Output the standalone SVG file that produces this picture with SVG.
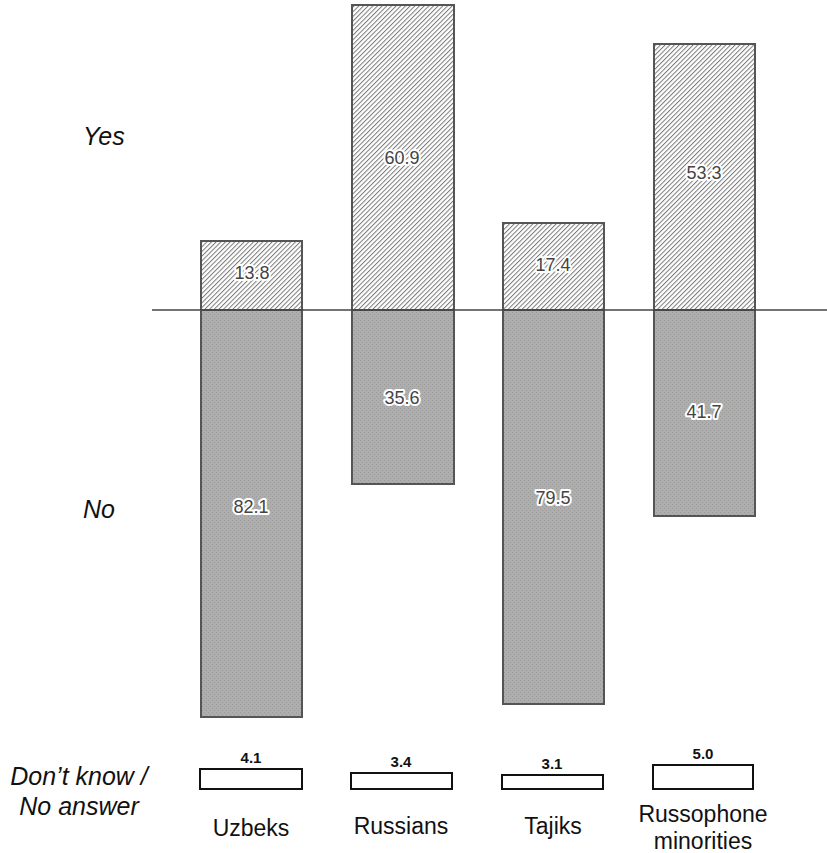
<svg xmlns="http://www.w3.org/2000/svg" width="827" height="853" viewBox="0 0 827 853">
<style>
.yes{fill:url(#hatch);stroke:#555;stroke-width:2}
.no{fill:url(#dots);stroke:#555;stroke-width:2}
.dk{fill:#fff;stroke:#111;stroke-width:2}
.val{font-family:"Liberation Sans",Arial,sans-serif;font-size:18px;fill:#444;text-anchor:middle;stroke:#fff;stroke-width:4;stroke-linejoin:round;paint-order:stroke}
.dkv{font-family:"Liberation Sans",Arial,sans-serif;font-size:15px;font-weight:bold;fill:#111;text-anchor:middle}
.cat{font-family:"Liberation Sans",Arial,sans-serif;font-size:23px;fill:#111;text-anchor:middle}
.side{font-family:"Liberation Sans",Arial,sans-serif;font-size:25px;font-style:italic;fill:#111}
</style>
<defs>
<pattern id="hatch" patternUnits="userSpaceOnUse" width="3.3" height="10" patternTransform="rotate(45)">
<rect width="3.3" height="10" fill="#fff"/>
<line x1="0.5" y1="0" x2="0.5" y2="10" stroke="#7a7a7a" stroke-width="1"/>
</pattern>
<pattern id="dots" patternUnits="userSpaceOnUse" width="4" height="4">
<rect width="4" height="4" fill="#aeaeae"/>
<rect x="0" y="0" width="1" height="1" fill="#999"/>
<rect x="2" y="2" width="1" height="1" fill="#999"/>
</pattern>
</defs>
<rect width="827" height="853" fill="#fff"/>
<g id="labels-side">
<text class="side" x="83" y="145">Yes</text>
<text class="side" x="83" y="518">No</text>
<text class="side" x="79" y="785" text-anchor="middle">Don’t know /</text>
<text class="side" x="79" y="815" text-anchor="middle">No answer</text>
</g>
<g id="uzbeks">
<rect class="yes" x="201" y="241" width="101" height="69"/>
<rect class="no" x="201" y="310" width="101" height="407"/>
<text class="val" x="252" y="279">13.8</text>
<text class="val" x="251" y="513">82.1</text>
<rect class="dk" x="200" y="769" width="102" height="20"/>
<text class="dkv" x="251" y="763">4.1</text>
<text class="cat" x="251" y="836">Uzbeks</text>
</g>
<g id="russians">
<rect class="yes" x="352" y="5" width="102" height="305"/>
<rect class="no" x="352" y="310" width="102" height="174"/>
<text class="val" x="402" y="164">60.9</text>
<text class="val" x="402" y="404">35.6</text>
<rect class="dk" x="351" y="773" width="101" height="16"/>
<text class="dkv" x="401" y="767">3.4</text>
<text class="cat" x="401" y="834">Russians</text>
</g>
<g id="tajiks">
<rect class="yes" x="503" y="223" width="101" height="87"/>
<rect class="no" x="503" y="310" width="101" height="394"/>
<text class="val" x="553" y="271">17.4</text>
<text class="val" x="553" y="504">79.5</text>
<rect class="dk" x="502" y="775" width="101" height="14"/>
<text class="dkv" x="552" y="769">3.1</text>
<text class="cat" x="553" y="834">Tajiks</text>
</g>
<g id="russophone">
<rect class="yes" x="654" y="44" width="101" height="266"/>
<rect class="no" x="654" y="310" width="101" height="206"/>
<text class="val" x="704" y="179">53.3</text>
<text class="val" x="704" y="418">41.7</text>
<rect class="dk" x="653" y="765" width="100" height="24"/>
<text class="dkv" x="703" y="759">5.0</text>
<text class="cat" x="703" y="822">Russophone</text>
<text class="cat" x="703" y="849">minorities</text>
</g>
<g id="connectors">
<line x1="152" y1="310" x2="827" y2="310" stroke="#444" stroke-width="1.5"/>
</g>
</svg>
